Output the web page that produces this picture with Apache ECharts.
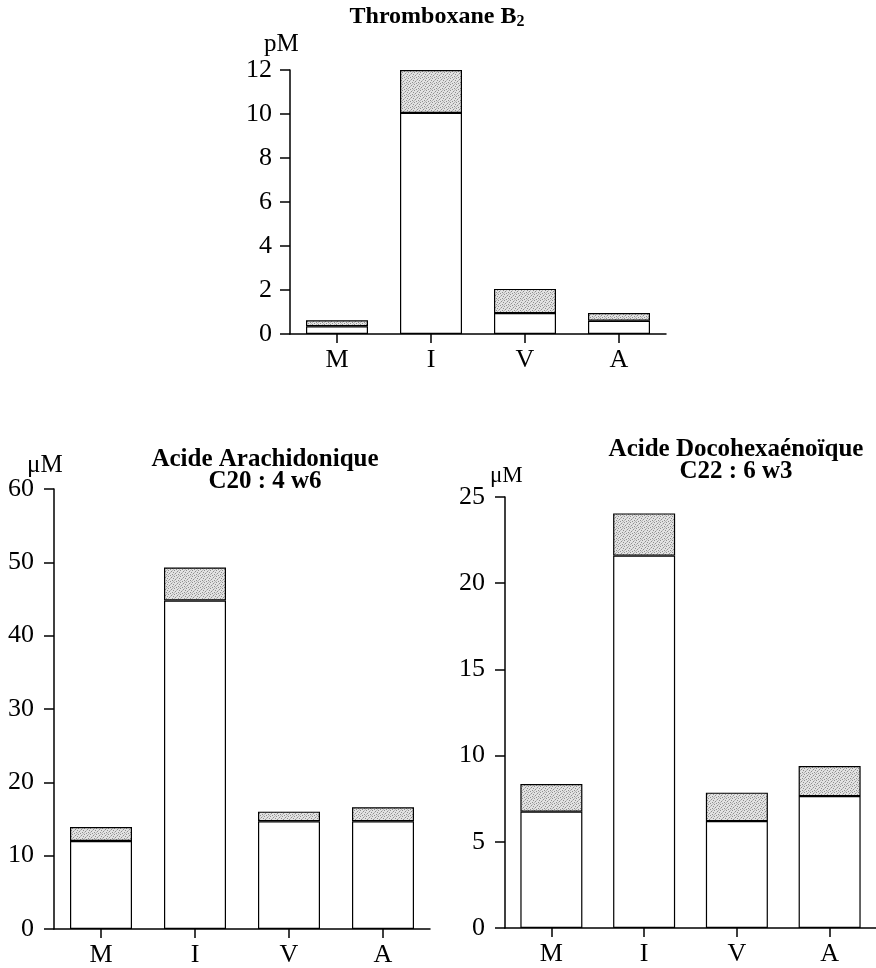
<!DOCTYPE html>
<html>
<head>
<meta charset="utf-8">
<script src="https://cdn.jsdelivr.net/npm/echarts@6/dist/echarts.min.js"></script>
<style>
html,body{margin:0;padding:0;background:#fff;}
#chart{width:876px;height:968px;}
</style>
</head>
<body>
<div id="chart"></div>
<script>
// ---- data ----
const categories = ['M', 'I', 'V', 'A'];

// Thromboxane B2 (pM)
const txbBase  = [0.35, 10.05, 0.95, 0.6];
const txbExtra = [0.27, 1.95, 1.1, 0.35];
const txbTicks = { min: 0, max: 12, interval: 2 };

// Acide Arachidonique C20:4 w6 (µM)
const aaBase  = [12.0, 44.8, 14.7, 14.7];
const aaExtra = [1.9, 4.5, 1.3, 1.9];
const aaTicks = { min: 0, max: 60, interval: 10 };

// Acide Docohexaénoïque C22:6 w3 (µM)
const dhaBase  = [6.75, 21.6, 6.2, 7.65];
const dhaExtra = [1.6, 2.45, 1.65, 1.75];
const dhaTicks = { min: 0, max: 25, interval: 5 };

// ---- stipple pattern ----
const pc = document.createElement('canvas');
pc.width = 6; pc.height = 6;
const pctx = pc.getContext('2d');
pctx.fillStyle = '#e2e2e2';
pctx.fillRect(0, 0, 6, 6);
pctx.fillStyle = '#8f8f8f';
[[0,0],[3,1],[1,3],[4,4],[2,5],[5,2]].forEach(p => pctx.fillRect(p[0], p[1], 1, 1));
pctx.fillStyle = '#b8b8b8';
[[2,2],[5,5],[0,4],[4,0]].forEach(p => pctx.fillRect(p[0], p[1], 1, 1));
const stipple = { image: pc, repeat: 'repeat' };

const FONT = "'Liberation Serif', 'DejaVu Serif', serif";
const axisLineStyle = { color: '#000', width: 1.5 };

function xAx(gi, fs) {
  return {
    type: 'category', gridIndex: gi, data: categories,
    axisLine: { show: true, lineStyle: axisLineStyle },
    axisTick: { show: true, alignWithLabel: true, length: 9, lineStyle: axisLineStyle },
    axisLabel: { fontFamily: FONT, fontSize: fs, color: '#000', margin: 13 }
  };
}
function yAx(gi, t, fs, margin) {
  return {
    type: 'value', gridIndex: gi, min: t.min, max: t.max, interval: t.interval,
    axisLine: { show: true, lineStyle: axisLineStyle },
    axisTick: { show: true, length: 10, lineStyle: axisLineStyle },
    splitLine: { show: false },
    axisLabel: { fontFamily: FONT, fontSize: fs, color: '#000', margin: margin }
  };
}
function bars(gi, stack, base, extra) {
  return [
    { type: 'bar', xAxisIndex: gi, yAxisIndex: gi, stack: stack, data: base, barWidth: 62,
      itemStyle: { color: '#fff', borderColor: '#000', borderWidth: 1.2 }, silent: true },
    { type: 'bar', xAxisIndex: gi, yAxisIndex: gi, stack: stack, data: extra, barWidth: 62,
      itemStyle: { color: stipple, borderColor: '#000', borderWidth: 1.2 }, silent: true }
  ];
}

const chart = echarts.init(document.getElementById('chart'), null, { renderer: 'canvas' });
chart.setOption({
  animation: false,
  backgroundColor: '#fff',
  title: [
    { text: 'Thromboxane B{s|2}', left: 432, top: -2, textAlign: 'center',
      textStyle: { fontFamily: FONT, fontSize: 24, fontWeight: 'bold', color: '#000',
        rich: { s: { fontFamily: FONT, fontSize: 16, fontWeight: 'bold', color: '#000', padding: [11, 0, 0, 0] } } } },
    { text: 'pM', left: 259, top: 27,
      textStyle: { fontFamily: FONT, fontSize: 25, fontWeight: 'normal', color: '#000' } },
    { text: 'Acide Arachidonique\nC20 : 4 w6', left: 260, top: 444, textAlign: 'center',
      textStyle: { fontFamily: FONT, fontSize: 25, fontWeight: 'bold', color: '#000', lineHeight: 22 } },
    { text: 'μM', left: 22, top: 448,
      textStyle: { fontFamily: FONT, fontSize: 25, fontWeight: 'normal', color: '#000' } },
    { text: 'Acide Docohexaénoïque\nC22 : 6 w3', left: 731, top: 434, textAlign: 'center',
      textStyle: { fontFamily: FONT, fontSize: 25, fontWeight: 'bold', color: '#000', lineHeight: 22 } },
    { text: 'μM', left: 485, top: 459,
      textStyle: { fontFamily: FONT, fontSize: 23, fontWeight: 'normal', color: '#000' } }
  ],
  grid: [
    { left: 290, top: 70, width: 376, height: 264 },
    { left: 54, top: 489, width: 376, height: 445 },
    { left: 505, top: 497, width: 378, height: 431 }
  ],
  xAxis: [xAx(0, 26), xAx(1, 26), xAx(2, 26)],
  yAxis: [yAx(0, txbTicks, 26, 18), yAx(1, aaTicks, 26, 20), yAx(2, dhaTicks, 26, 20)],
  series: [].concat(
    bars(0, 'txb', txbBase, txbExtra),
    bars(1, 'aa', aaBase, aaExtra),
    bars(2, 'dha', dhaBase, dhaExtra)
  )
});
</script>
</body>
</html>
